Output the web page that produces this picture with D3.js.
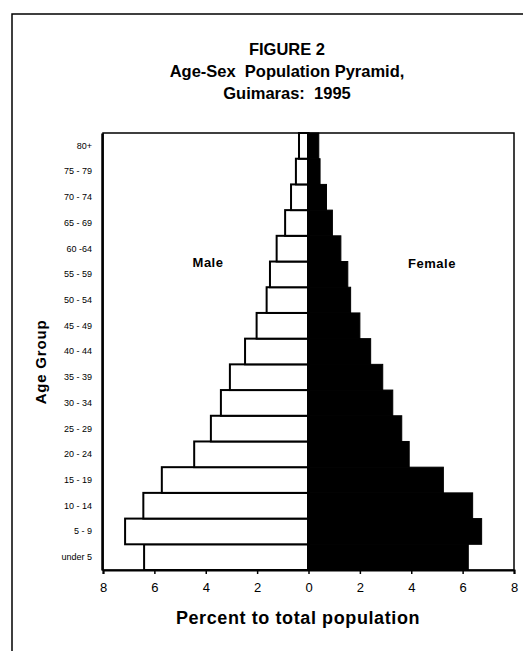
<!DOCTYPE html>
<html>
<head>
<meta charset="utf-8">
<script src="https://cdn.jsdelivr.net/npm/d3@7"></script>
<style>
  html, body { margin: 0; padding: 0; background: #fff; }
  svg { display: block; font-family: "Liberation Sans", Arial, sans-serif; }
  .title { white-space: pre; }
</style>
</head>
<body>
<svg id="chart" width="523" height="651"></svg>
<script>
// Age groups, bottom to top
const ageGroups = ["under 5", "5 - 9", "10 - 14", "15 - 19", "20 - 24", "25 - 29", "30 - 34",
  "35 - 39", "40 - 44", "45 - 49", "50 - 54", "55 - 59", "60 -64", "65 - 69", "70 - 74", "75 - 79", "80+"];

// Percent of total population
const male = [6.4, 7.14, 6.43, 5.71, 4.45, 3.8, 3.41, 3.06, 2.47, 2.02, 1.63, 1.5, 1.24, 0.91, 0.68, 0.49, 0.37];
const female = [6.22, 6.74, 6.39, 5.25, 3.92, 3.63, 3.28, 2.89, 2.42, 2.0, 1.64, 1.53, 1.26, 0.93, 0.7, 0.45, 0.4];

const xTicks = [-8, -6, -4, -2, 0, 2, 4, 6, 8];

const titleLines = ["FIGURE 2", "Age-Sex  Population Pyramid,", "Guimaras:  1995"];

const svg = d3.select("#chart");

const plot = { left: 103, right: 514, top: 133, bottom: 570 };

// page frame (scanned page border)
svg.append("path")
  .attr("d", "M12,651 L12,14 L523,14")
  .attr("fill", "none")
  .attr("stroke", "#000")
  .attr("stroke-width", 1.5);

// title
svg.append("g")
  .selectAll("text")
  .data(titleLines)
  .enter()
  .append("text")
  .attr("class", "title")
  .attr("x", 287)
  .attr("y", (d, i) => 55 + i * 22)
  .attr("text-anchor", "middle")
  .attr("font-size", 16.5)
  .attr("font-weight", "bold")
  .text((d) => d);

const x = d3.scaleLinear().domain([-8, 8]).range([plot.left, plot.right]);
const y = d3.scaleBand().domain(ageGroups).range([plot.bottom, plot.top]).padding(0);

// plot box
svg.append("rect")
  .attr("x", plot.left)
  .attr("y", plot.top)
  .attr("width", plot.right - plot.left)
  .attr("height", plot.bottom - plot.top)
  .attr("fill", "none")
  .attr("stroke", "#000")
  .attr("stroke-width", 1.5);

// male bars (white)
svg.append("g")
  .selectAll("rect")
  .data(ageGroups)
  .enter()
  .append("rect")
  .attr("x", (d, i) => x(-male[i]))
  .attr("y", (d) => y(d))
  .attr("width", (d, i) => x(0) - x(-male[i]))
  .attr("height", y.bandwidth())
  .attr("fill", "#fff")
  .attr("stroke", "#000")
  .attr("stroke-width", 2);

// female bars (black)
svg.append("g")
  .selectAll("rect")
  .data(ageGroups)
  .enter()
  .append("rect")
  .attr("x", x(0) - 1)
  .attr("y", (d) => y(d))
  .attr("width", (d, i) => x(female[i]) - x(0) + 1)
  .attr("height", y.bandwidth())
  .attr("fill", "#000")
  .attr("stroke", "#000")
  .attr("stroke-width", 1);

// x axis
const xAxis = svg.append("g")
  .attr("transform", `translate(0,${plot.bottom})`)
  .call(d3.axisBottom(x).tickValues(xTicks).tickFormat((d) => Math.abs(d)).tickSize(4).tickPadding(9));
xAxis.select(".domain").attr("stroke-width", 2);
xAxis.selectAll(".tick line").attr("stroke-width", 1.5);
xAxis.selectAll(".tick text").attr("font-size", 13).attr("font-family", "Liberation Sans, Arial, sans-serif");

// y axis
const yAxis = svg.append("g")
  .attr("transform", `translate(${plot.left - 1},0)`)
  .call(d3.axisLeft(y).tickSize(0).tickPadding(10));
yAxis.select(".domain").attr("stroke-width", 2.5);
yAxis.selectAll(".tick text").attr("font-size", 9).attr("font-family", "Liberation Sans, Arial, sans-serif");

// axis titles
svg.append("text")
  .attr("x", 298)
  .attr("y", 624)
  .attr("text-anchor", "middle")
  .attr("font-size", 18)
  .attr("font-weight", "bold")
  .attr("letter-spacing", 0.6)
  .text("Percent to total population");

svg.append("text")
  .attr("transform", "translate(46,362) rotate(-90)")
  .attr("text-anchor", "middle")
  .attr("font-size", 15)
  .attr("font-weight", "bold")
  .attr("letter-spacing", 0.8)
  .text("Age Group");

// series labels
svg.append("text")
  .attr("x", 208)
  .attr("y", 267)
  .attr("text-anchor", "middle")
  .attr("font-size", 13)
  .attr("font-weight", "bold")
  .attr("letter-spacing", 0.5)
  .text("Male");

svg.append("text")
  .attr("x", 432)
  .attr("y", 268)
  .attr("text-anchor", "middle")
  .attr("font-size", 13)
  .attr("font-weight", "bold")
  .attr("letter-spacing", 0.5)
  .text("Female");
</script>
</body>
</html>
